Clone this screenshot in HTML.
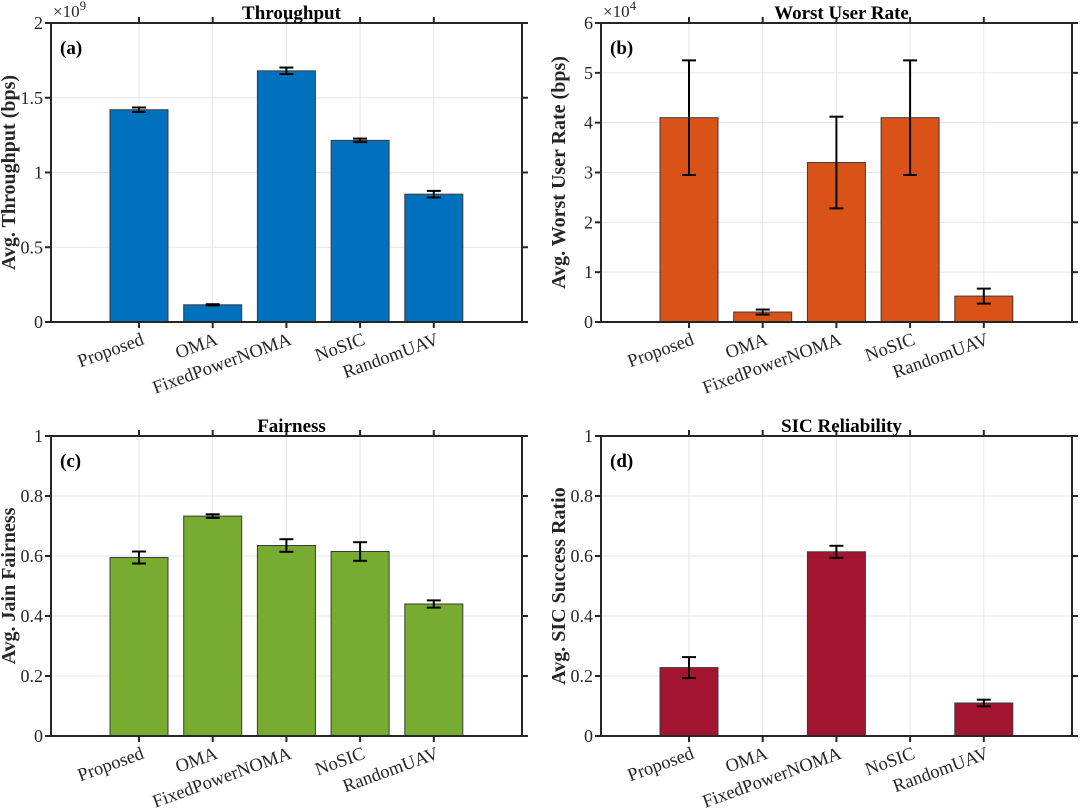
<!DOCTYPE html>
<html><head><meta charset="utf-8"><style>
body{margin:0;background:#fff;}
svg{display:block;font-family:"Liberation Serif",serif;}
</style></head><body>
<svg id="fig" width="1080" height="809" viewBox="0 0 1080 809"></svg>
<script>
const categories = ["Proposed","OMA","FixedPowerNOMA","NoSIC","RandomUAV"];
const throughputVals = [1.42, 0.115, 1.68, 1.215, 0.855];
const throughputErr = [0.015, 0.004, 0.022, 0.012, 0.022];
const worstVals = [4.1, 0.2, 3.2, 4.1, 0.52];
const worstErr = [1.15, 0.05, 0.92, 1.15, 0.15];
const fairVals = [0.595, 0.733, 0.635, 0.615, 0.44];
const fairErr = [0.02, 0.006, 0.021, 0.031, 0.012];
const sicVals = [0.228, 0, 0.614, 0, 0.11];
const sicErr = [0.035, 0, 0.02, 0, 0.011];
const throughputTicks = ["0","0.5","1","1.5","2"];
const worstTicks = ["0","1","2","3","4","5","6"];
const unitTicks = ["0","0.2","0.4","0.6","0.8","1"];

const NS="http://www.w3.org/2000/svg";
const svg=document.getElementById('fig');
function mk(tag,attrs,parent,text){const e=document.createElementNS(NS,tag);for(const k in attrs)e.setAttribute(k,attrs[k]);if(text!==undefined)e.textContent=text;(parent||svg).appendChild(e);return e;}

function panel(o){
  const g=mk('g',{});
  
  
  const L=o.left,R=o.right,T=o.top,B=o.bottom;
  const n=o.ticks.length-1;
  const ymax=parseFloat(o.ticks[n]);
  const y=v=>B-(v/ymax)*(B-T);
  const x=i=>L+88+i*73.7;
  o.ticks.forEach((t,i)=>{const yy=y(parseFloat(t));
    if(i>0&&i<n){const gl=mk('line',{x1:L,x2:R,y1:yy,y2:yy,stroke:'#e6e6e6','stroke-width':1},g);
      }
  });
  categories.forEach((c,i)=>{const gl=mk('line',{x1:x(i),x2:x(i),y1:T,y2:B,stroke:'#e6e6e6','stroke-width':1},g);
    });
  o.vals.forEach((v,i)=>{
    const yy=y(v);
    const r=mk('rect',{x:x(i)-29,y:yy,width:58,height:B-yy,fill:o.color,stroke:'#3a3a3a','stroke-width':1},g);
    
    
    const e=o.err[i];
    if(v>0){
      const eg=mk('g',{stroke:'#000','stroke-width':2},g);
      
      
      const y1=y(v+e),y2=y(v-e);
      mk('line',{x1:x(i),x2:x(i),y1:y1,y2:y2},eg);
      mk('line',{x1:x(i)-7,x2:x(i)+7,y1:y1,y2:y1},eg);
      mk('line',{x1:x(i)-7,x2:x(i)+7,y1:y2,y2:y2},eg);
    }
  });
  const ax=mk('rect',{x:L,y:T,width:R-L,height:B-T,fill:'none',stroke:'#262626','stroke-width':2},g);
  
  o.ticks.forEach(t=>{const yy=y(parseFloat(t));
    mk('line',{x1:L-6,x2:L,y1:yy,y2:yy,stroke:'#262626','stroke-width':2},g);
    mk('line',{x1:R,x2:R+6,y1:yy,y2:yy,stroke:'#262626','stroke-width':2},g);
    const tl=mk('text',{x:L-8,y:yy+6,'text-anchor':'end','font-size':18,fill:'#262626'},g,t);
    
  });
  categories.forEach((c,i)=>{const xx=x(i);
    mk('line',{x1:xx,x2:xx,y1:B,y2:B+6,stroke:'#262626','stroke-width':2},g);
    mk('line',{x1:xx,x2:xx,y1:T-6,y2:T,stroke:'#262626','stroke-width':2},g);
    const tl=mk('text',{x:xx+6,y:B+22,'text-anchor':'end','font-size':18.5,fill:'#262626',transform:`rotate(-20 ${xx+6} ${B+22})`},g,c);
    
  });
  const ti=mk('text',{x:(L+R)/2+5,y:T-4,'text-anchor':'middle','font-size':19,'font-weight':'bold',fill:'#000'},g,o.title);
  
  const pl=mk('text',{x:L+9,y:T+31,'font-size':19,'font-weight':'bold',fill:'#000'},g,o.label);
  
  const yl=mk('text',{x:0,y:0,'text-anchor':'middle','font-size':20,'font-weight':'bold',fill:'#262626',transform:`translate(${L-36} ${(T+B)/2}) rotate(-90)`},g,o.ylabel);
  
  if(o.exp){const ex=mk('text',{x:L+2,y:T-6,'font-size':17,fill:'#262626'},g);
    
    mk('tspan',{},ex,'\u00d710');mk('tspan',{'font-size':13,dy:-7},ex,o.exp);}
}
panel({name:'throughput-panel',left:51,right:522,top:23,bottom:322,ticks:throughputTicks,vals:throughputVals,err:throughputErr,color:'#0072BD',title:'Throughput',label:'(a)',ylabel:'Avg. Throughput (bps)',exp:'9'});
panel({name:'worst-user-rate-panel',left:601,right:1072,top:23,bottom:322,ticks:worstTicks,vals:worstVals,err:worstErr,color:'#D95319',title:'Worst User Rate',label:'(b)',ylabel:'Avg. Worst User Rate (bps)',exp:'4'});
panel({name:'fairness-panel',left:51,right:522,top:436,bottom:736,ticks:unitTicks,vals:fairVals,err:fairErr,color:'#77AC30',title:'Fairness',label:'(c)',ylabel:'Avg. Jain Fairness'});
panel({name:'sic-reliability-panel',left:601,right:1072,top:436,bottom:736,ticks:unitTicks,vals:sicVals,err:sicErr,color:'#A2142F',title:'SIC Reliability',label:'(d)',ylabel:'Avg. SIC Success Ratio'});
</script>
</body></html>
